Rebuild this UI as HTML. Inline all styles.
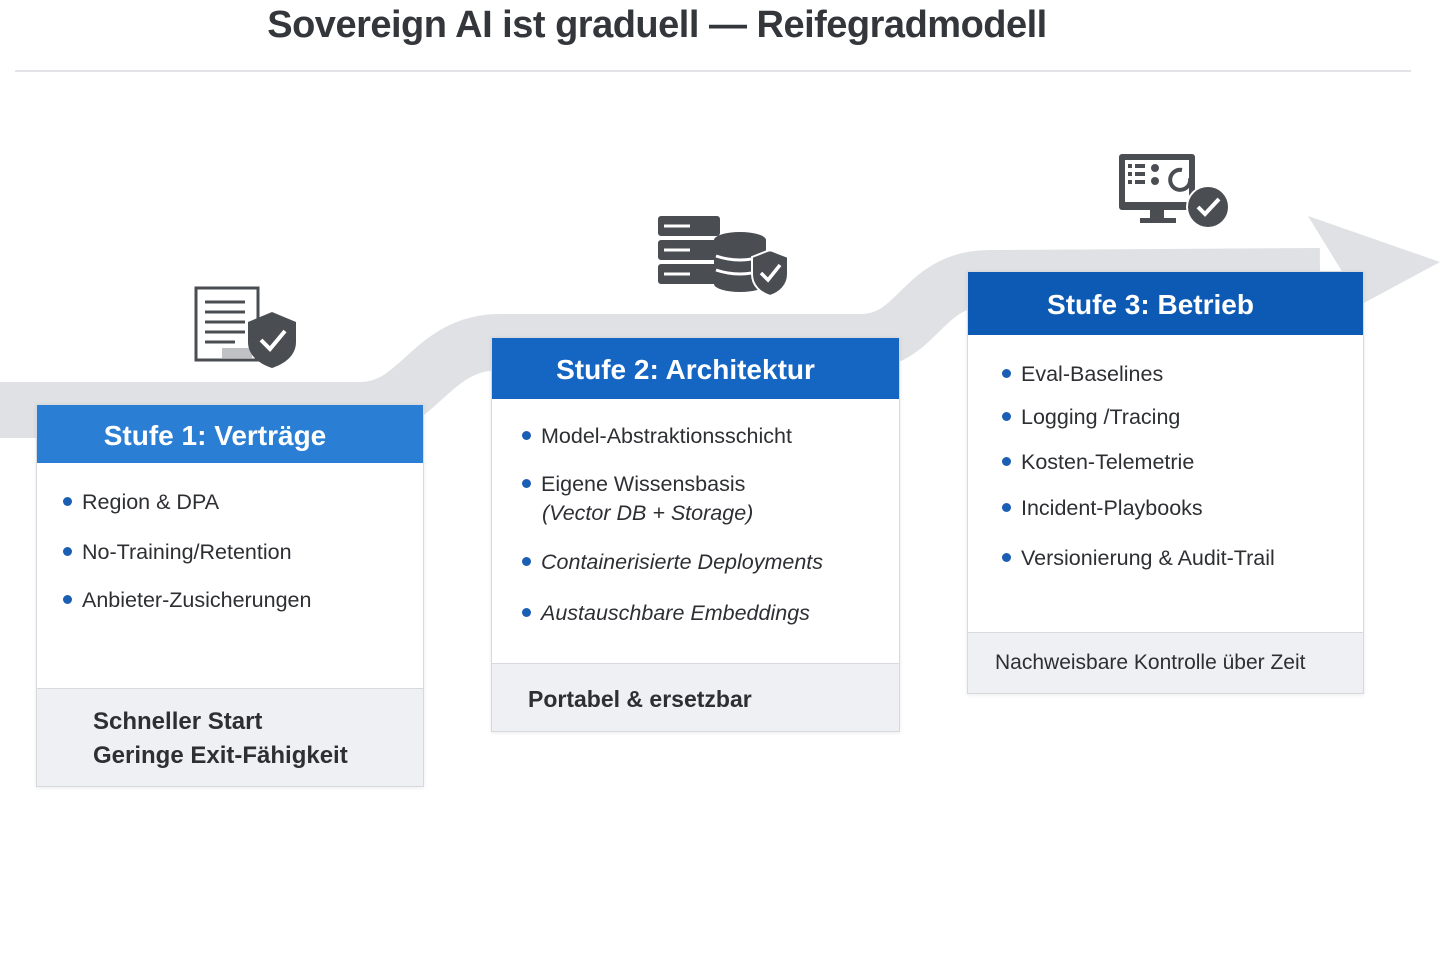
<!DOCTYPE html>
<html><head><meta charset="utf-8"><style>
body{margin:0;width:1440px;height:960px;background:#fff;font-family:"Liberation Sans",sans-serif;position:relative;overflow:hidden;color:#2d2f33}
.t{position:absolute;left:0;width:1314px;text-align:center;top:4px;font-size:38px;font-weight:bold;color:#33363b;letter-spacing:-0.5px}
.hr{position:absolute;left:15px;width:1396px;top:70px;height:2px;background:#e2e4e7}
.box{position:absolute;background:#fff;border:1px solid #d6d9de;box-shadow:0 1px 4px rgba(0,0,0,.08)}
.hd{color:#fff;font-weight:bold;font-size:28px;text-align:center;box-sizing:border-box}
.it{position:absolute;font-size:21.5px;color:#2d2f33}
.it:before{content:"";display:inline-block;width:9px;height:9px;border-radius:50%;background:#1a5fb4;margin-right:10px;vertical-align:middle;position:relative;top:-2px}
.ft{position:absolute;left:0;right:0;bottom:0;background:#eef0f3;border-top:1px solid #d6d9de;font-size:23px;color:#2d2f33;box-sizing:border-box}
</style></head><body>
<svg width="1440" height="960" style="position:absolute;left:0;top:0">
<path d="M0 410 L360 410 C420 410 430 342 500 342 L860 342 C920 342 920 278 990 278 L1320 276" fill="none" stroke="#dfe1e4" stroke-width="56"/>
<polygon points="1308,216 1440,262 1362,304" fill="#dfe1e4"/>
<g fill="none" stroke="#4a4d52" stroke-width="3">
<path d="M196 288 L258 288 L258 360 L196 360 Z" fill="#fff"/>
<line x1="205" y1="302" x2="245" y2="302"/><line x1="205" y1="312" x2="245" y2="312"/><line x1="205" y1="322" x2="245" y2="322"/><line x1="205" y1="332" x2="245" y2="332"/><line x1="205" y1="342" x2="235" y2="342"/>
</g>
<rect x="222" y="348" width="30" height="10" fill="#bfc1c4"/>
<path d="M272 312 L296 322 L296 342 C296 356 284 364 272 368 C260 364 248 356 248 342 L248 322 Z" fill="#4a4d52"/>
<path d="M261 340 L270 349 L285 331" stroke="#fff" stroke-width="4" fill="none"/>
<g fill="#4a4d52">
<rect x="658" y="216" width="62" height="20" rx="3"/><rect x="658" y="240" width="62" height="20" rx="3"/><rect x="658" y="264" width="62" height="20" rx="3"/>
<path d="M714 240 a26 8 0 0 1 52 0 v44 a26 8 0 0 1 -52 0 Z"/>
</g>
<g stroke="#fff" stroke-width="3"><line x1="664" y1="226" x2="690" y2="226"/><line x1="664" y1="250" x2="690" y2="250"/><line x1="664" y1="274" x2="690" y2="274"/><path d="M716 256 q24 8 48 0 M716 270 q24 8 48 0" fill="none"/></g>
<path d="M770 250 L788 257 L788 274 C788 286 779 293 770 296 C761 293 752 286 752 274 L752 257 Z" fill="#4a4d52" stroke="#fff" stroke-width="2"/>
<path d="M761 273 L768 280 L780 265" stroke="#fff" stroke-width="3.5" fill="none"/>
<rect x="1119" y="154" width="76" height="56" rx="3" fill="#4a4d52"/>
<rect x="1125" y="160" width="64" height="42" fill="#fff"/>
<g fill="#4a4d52"><rect x="1128" y="164" width="4" height="4"/><rect x="1128" y="172" width="4" height="4"/><rect x="1128" y="180" width="4" height="4"/><rect x="1135" y="164" width="10" height="4"/><rect x="1135" y="172" width="10" height="4"/><rect x="1135" y="180" width="10" height="4"/><circle cx="1155" cy="168" r="4"/><circle cx="1155" cy="181" r="4"/><rect x="1150" y="210" width="14" height="10"/><rect x="1140" y="218" width="36" height="5"/></g>
<path d="M1182 170 a10 10 0 1 0 8 8" stroke="#4a4d52" stroke-width="4" fill="none"/>
<circle cx="1208" cy="207" r="21" fill="#4a4d52" stroke="#fff" stroke-width="2"/>
<path d="M1198 207 L1205 214 L1219 199" stroke="#fff" stroke-width="4" fill="none"/>
</svg>
<div class="t">Sovereign AI ist graduell — Reifegradmodell</div>
<div class="hr"></div>

<div class="box" style="left:36px;top:404px;width:386px;height:381px">
<div class="hd" style="background:#2a7ed3;height:58px;line-height:62px;padding-right:30px">Stufe 1: Verträge</div>
<div class="it" style="left:26px;top:85px">Region &amp; DPA</div>
<div class="it" style="left:26px;top:135px">No-Training/Retention</div>
<div class="it" style="left:26px;top:183px">Anbieter-Zusicherungen</div>
<div class="ft" style="height:98px;padding:16px 0 0 56px;font-weight:bold;font-size:24px;line-height:34px">Schneller Start<br>Geringe Exit-Fähigkeit</div>
</div>

<div class="box" style="left:491px;top:337px;width:407px;height:393px">
<div class="hd" style="background:#1565c2;height:61px;line-height:64px;padding-right:20px">Stufe 2: Architektur</div>
<div class="it" style="left:30px;top:86px">Model-Abstraktionsschicht</div>
<div class="it" style="left:30px;top:134px">Eigene Wissensbasis</div>
<div style="position:absolute;left:50px;top:163px;font-size:21.5px;font-style:italic">(Vector DB + Storage)</div>
<div class="it" style="left:30px;top:212px;font-style:italic">Containerisierte Deployments</div>
<div class="it" style="left:30px;top:263px;font-style:italic">Austauschbare Embeddings</div>
<div class="ft" style="height:68px;padding:22px 0 0 36px;font-weight:bold">Portabel &amp; ersetzbar</div>
</div>

<div class="box" style="left:967px;top:271px;width:395px;height:421px">
<div class="hd" style="background:#0d5ab4;height:63px;line-height:66px;padding-right:30px">Stufe 3: Betrieb</div>
<div class="it" style="left:34px;top:90px">Eval-Baselines</div>
<div class="it" style="left:34px;top:133px">Logging /Tracing</div>
<div class="it" style="left:34px;top:178px">Kosten-Telemetrie</div>
<div class="it" style="left:34px;top:224px">Incident-Playbooks</div>
<div class="it" style="left:34px;top:274px">Versionierung &amp; Audit-Trail</div>
<div class="ft" style="height:61px;padding:18px 0 0 27px;font-size:21px">Nachweisbare Kontrolle über Zeit</div>
</div>
</body></html>
